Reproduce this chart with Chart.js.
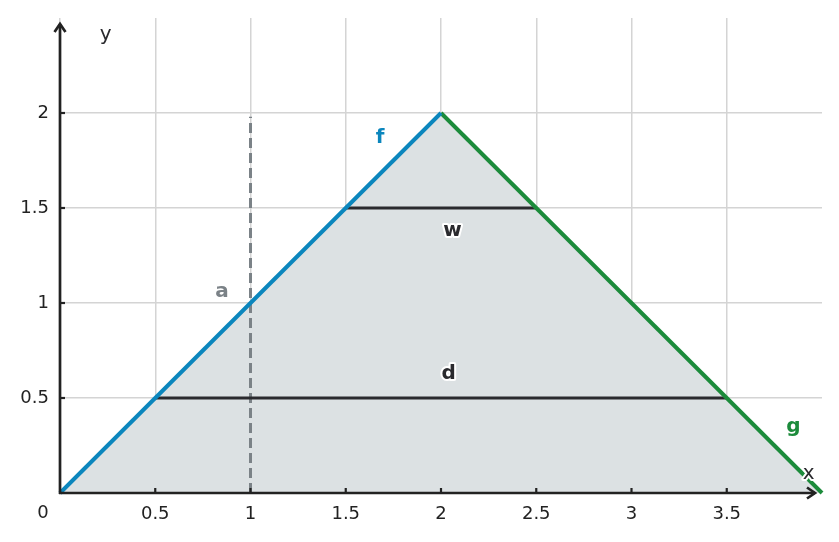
<!DOCTYPE html>
<html><head><meta charset="utf-8">
<script src="https://cdn.jsdelivr.net/npm/chart.js@4"></script>
<style>html,body{margin:0;padding:0;background:#fff}#wrap{width:839px;height:542px}</style>
</head><body><div id="wrap"><canvas id="c" width="839" height="542"></canvas></div>
<script>
const xTicks = [0, 0.5, 1, 1.5, 2, 2.5, 3, 3.5];
const yTicks = [0.5, 1, 1.5, 2];
const triangleX = [0, 2, 4];
const triangleY = [0, 2, 0];
const fX = [0, 2], fY = [0, 2];
const gX = [2, 4], gY = [2, 0];
const wX = [1.5, 2.5], wY = [1.5, 1.5];
const dX = [0.5, 3.5], dY = [0.5, 0.5];
const aX = [1, 1], aY = [0, 1.98];
const labels = [
  {t:'a', x:0.85, y:1.06, c:'#7b8287', bold:true, halo:false},
  {t:'f', x:1.68, y:1.87, c:'#0b86bd', bold:true, halo:false},
  {t:'w', x:2.06, y:1.38, c:'#2a2a2e', bold:true, halo:true},
  {t:'d', x:2.04, y:0.63, c:'#2a2a2e', bold:true, halo:true},
  {t:'g', x:3.85, y:0.35, c:'#1c8b3b', bold:true, halo:false},
  {t:'x', x:3.93, y:0.10, c:'#2a2a2e', bold:false, halo:true},
  {t:'y', x:0.24, y:2.41, c:'#2a2a2e', bold:false, halo:false}
];
const pts = (xs, ys) => xs.map((x, i) => ({x, y: ys[i]}));

const overlay = {
  id: 'overlay',
  afterDatasetsDraw(chart) {
    const {ctx, scales:{x, y}, chartArea:ca} = chart;
    const ox = x.getPixelForValue(0), oy = y.getPixelForValue(0);
    ctx.save();
    ctx.strokeStyle = '#222'; ctx.lineWidth = 2.7; ctx.lineCap = 'butt';
    // axes
    ctx.beginPath(); ctx.moveTo(ox, oy + 1); ctx.lineTo(ox, ca.top + 6); ctx.stroke();
    ctx.beginPath(); ctx.moveTo(ox - 1, oy); ctx.lineTo(ca.right - 7, oy); ctx.stroke();
    ctx.lineJoin = 'miter';
    ctx.beginPath(); ctx.moveTo(ox - 5.5, ca.top + 14); ctx.lineTo(ox, ca.top + 6); ctx.lineTo(ox + 5.5, ca.top + 14); ctx.stroke();
    ctx.beginPath(); ctx.moveTo(ca.right - 15, oy - 5.5); ctx.lineTo(ca.right - 7, oy); ctx.lineTo(ca.right - 15, oy + 5.5); ctx.stroke();
    // tick marks
    ctx.lineWidth = 2.2;
    yTicks.forEach(v => { const p = y.getPixelForValue(v); ctx.beginPath(); ctx.moveTo(ox, p); ctx.lineTo(ox + 5, p); ctx.stroke(); });
    xTicks.filter(v => v > 0).forEach(v => { const p = x.getPixelForValue(v); ctx.beginPath(); ctx.moveTo(p, oy); ctx.lineTo(p, oy - 5); ctx.stroke(); });
    // zero label
    ctx.fillStyle = '#222'; ctx.font = '18px "DejaVu Sans"'; ctx.textAlign = 'center'; ctx.textBaseline = 'middle';
    ctx.fillText('0', ox - 17, oy + 20);
    // annotations
    labels.forEach(l => {
      const px = x.getPixelForValue(l.x), py = y.getPixelForValue(l.y);
      ctx.font = (l.bold ? 'bold ' : '') + '20px "DejaVu Sans"';
      if (l.halo) { ctx.strokeStyle = '#fff'; ctx.lineWidth = 4; ctx.lineJoin = 'round'; ctx.strokeText(l.t, px, py); }
      ctx.fillStyle = l.c; ctx.fillText(l.t, px, py);
    });
    ctx.restore();
  }
};

new Chart(document.getElementById('c'), {
  type: 'scatter',
  data: {
    datasets: [
      {data: pts(triangleX, triangleY), showLine: true, fill: 'origin', backgroundColor: '#dce1e3', borderWidth: 0, pointRadius: 0, order: 10},
      {data: pts(aX, aY), showLine: true, borderColor: '#7b8287', borderWidth: 3, borderDash: [10, 5], pointRadius: 0, order: 6, clip: false},
      {data: pts(wX, wY), showLine: true, borderColor: '#2a2a2e', borderWidth: 3, pointRadius: 0, order: 5, clip: false},
      {data: pts(dX, dY), showLine: true, borderColor: '#2a2a2e', borderWidth: 3, pointRadius: 0, order: 5, clip: false},
      {data: pts(fX, fY), showLine: true, borderColor: '#0b86bd', borderWidth: 4, pointRadius: 0, order: 1, clip: false},
      {data: pts(gX, gY), showLine: true, borderColor: '#1c8b3b', borderWidth: 4, pointRadius: 0, order: 1, clip: false}
    ]
  },
  options: {
    responsive: false, animation: false, devicePixelRatio: 1,
    layout: {padding: {top: 18, right: 17, left: 0, bottom: 0}},
    plugins: {legend: {display: false}, tooltip: {enabled: false}},
    scales: {
      x: {
        type: 'linear', min: 0, max: 4,
        afterBuildTicks: s => { s.ticks = xTicks.map(v => ({value: v})); },
        afterFit: s => { s.height = 49; s.paddingLeft = 0; s.paddingRight = 0; },
        border: {display: false},
        grid: {color: '#d4d4d4', lineWidth: 1.5, drawTicks: false},
        ticks: {padding: 11, color: '#222', font: {family: 'DejaVu Sans', size: 18}, maxRotation: 0, autoSkip: false,
                callback: v => v === 0 ? '' : String(v)}
      },
      y: {
        type: 'linear', min: 0, max: 2.5,
        afterBuildTicks: s => { s.ticks = yTicks.map(v => ({value: v})); },
        afterFit: s => { s.width = 60; s.paddingTop = 0; s.paddingBottom = 0; },
        border: {display: false},
        grid: {color: '#d4d4d4', lineWidth: 1.5, drawTicks: false},
        ticks: {padding: 11, color: '#222', font: {family: 'DejaVu Sans', size: 18}, autoSkip: false,
                callback: v => String(v)}
      }
    }
  },
  plugins: [overlay]
});
</script>
</body></html>
